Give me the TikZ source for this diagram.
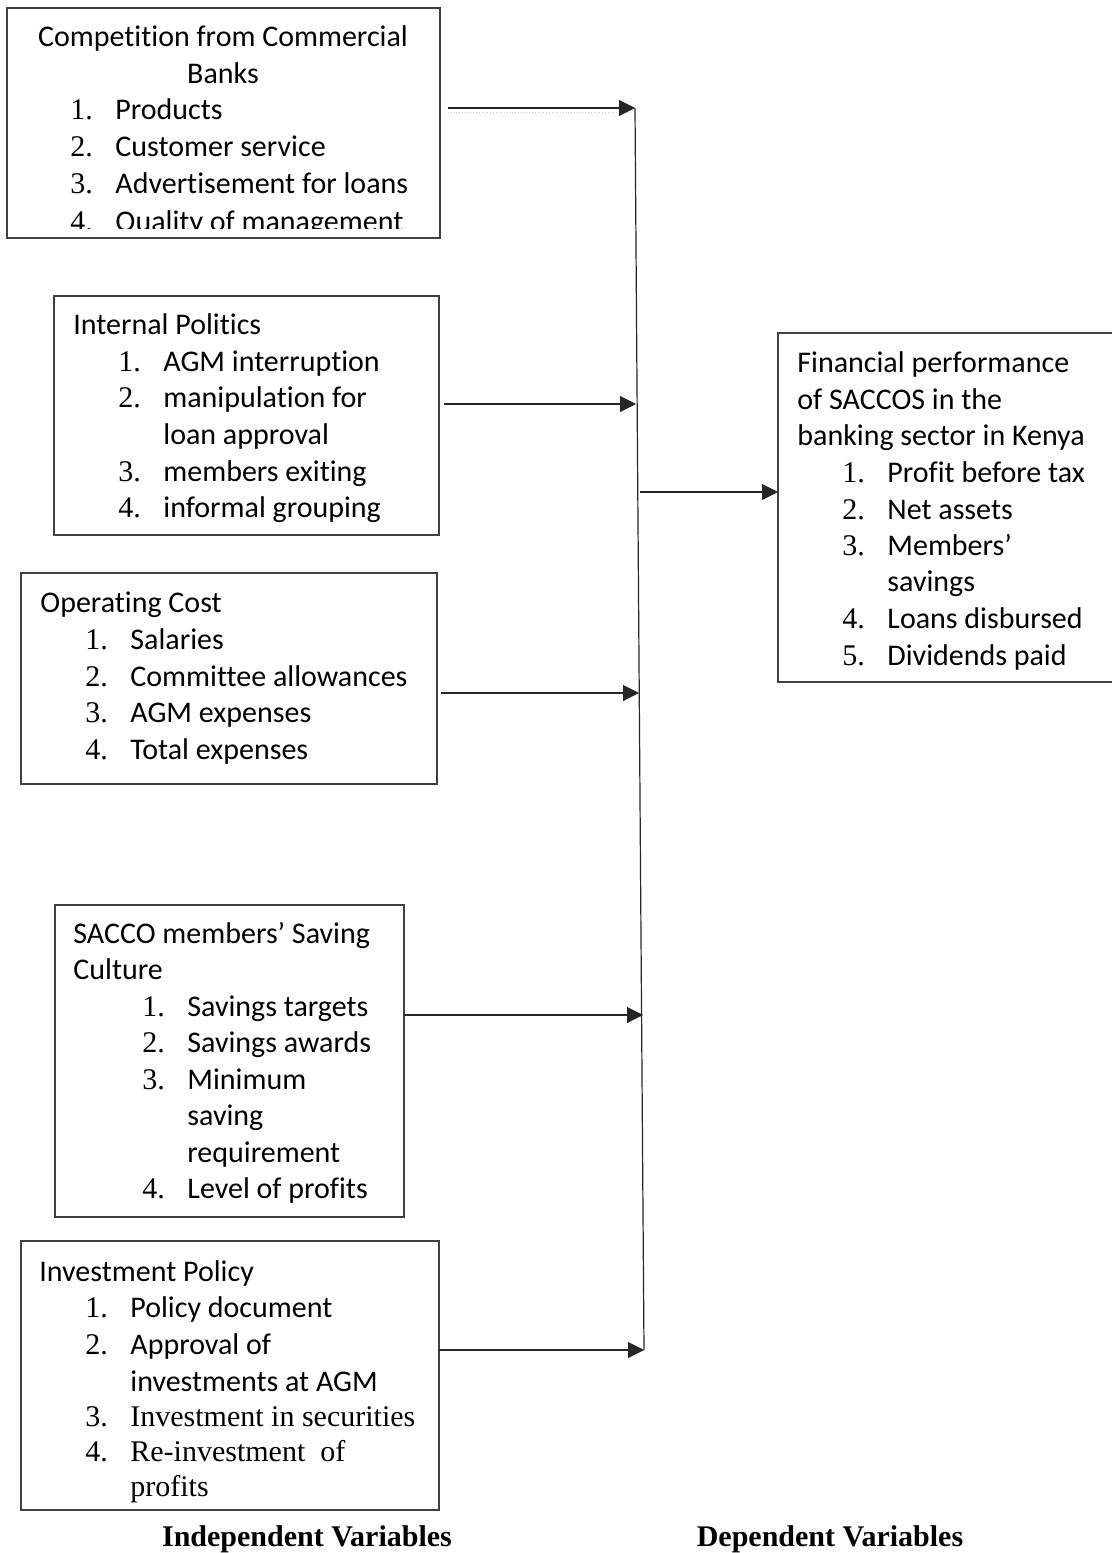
\documentclass[tikz,border=0pt]{standalone}
\usepackage{fontspec}
\setmainfont[Ligatures=NoCommon]{Carlito}
\newfontfamily\carlito[Ligatures=NoCommon]{Carlito}
\newfontfamily\timesf{Liberation Serif}
\usetikzlibrary{arrows.meta,fit}
\newcommand\nr[1]{\makebox[22.5pt][l]{\timesf #1}}
\tikzset{
  box/.style={draw=black!75,line width=0.7pt,inner sep=0pt,outer sep=0pt},
  txt/.style={anchor=base west,inner sep=0pt,font=\carlito\fontsize{15pt}{18pt}\selectfont},
  tms/.style={txt,font=\timesf\fontsize{15pt}{18pt}\selectfont},
  varlabel/.style={anchor=base,inner sep=0pt,font=\timesf\bfseries\fontsize{15pt}{18pt}\selectfont},
  arr/.style={-{Triangle[length=8pt,width=8pt]},line width=0.55pt,black!85},
}
\begin{document}
\begin{tikzpicture}[x=0.5pt,y=-0.5pt]
\useasboundingbox (0,0) rectangle (1112,1553);
% boxes
\node[box,fit={(7,8) (440,238)}] (b1) {};
\node[box,fit={(54,296) (439,535)}] (b2) {};
\node[box,fit={(21,573) (437,784)}] (b3) {};
\node[box,fit={(55,905) (404,1217)}] (b4) {};
\node[box,fit={(21,1241) (439,1510)}] (b5) {};
\node[box,fit={(778,333) (1118,682)}] (bd) {};
% competition
\begin{scope}
\clip (7,8) rectangle (440,228);
\node[txt,anchor=base] (cb0) at (223,46.5) {Competition from Commercial};
\node[txt,anchor=base] (cb0b) at (223,83) {Banks};
\node[txt] (cb1) at (70,119.5) {\nr{1.}Products};
\node[txt] (cb2) at (70,156) {\nr{2.}Customer service};
\node[txt] (cb3) at (70,193) {\nr{3.}Advertisement for loans};
\node[txt] (cb4) at (70,231) {\nr{4.}Quality of management};
\end{scope}
% internal politics
\node[txt] (ip0) at (73,334) {Internal Politics};
\node[txt] (ip1) at (118,371) {\nr{1.}AGM interruption};
\node[txt] (ip2) at (118,407) {\nr{2.}manipulation for};
\node[txt] (ip2b) at (163,444) {loan approval};
\node[txt] (ip3) at (118,481) {\nr{3.}members exiting};
\node[txt] (ip4) at (118,517) {\nr{4.}informal grouping};
% operating cost
\node[txt] (oc0) at (40,612) {Operating Cost};
\node[txt] (oc1) at (85,649) {\nr{1.}Salaries};
\node[txt] (oc2) at (85,686) {\nr{2.}Committee allowances};
\node[txt] (oc3) at (85,722) {\nr{3.}AGM expenses};
\node[txt] (oc4) at (85,759) {\nr{4.}Total expenses};
% saving culture
\node[txt] (sc0) at (73,943) {SACCO members’ Saving};
\node[txt] (sc0b) at (73,979.5) {Culture};
\node[txt] (sc1) at (142,1016) {\nr{1.}Savings targets};
\node[txt] (sc2) at (142,1052.5) {\nr{2.}Savings awards};
\node[txt] (sc3) at (142,1089) {\nr{3.}Minimum};
\node[txt] (sc3b) at (187,1125.5) {saving};
\node[txt] (sc3c) at (187,1162) {requirement};
\node[txt] (sc4) at (142,1198.5) {\nr{4.}Level of profits};
% investment policy
\node[txt] (iv0) at (39,1281) {Investment Policy};
\node[txt] (iv1) at (85,1317) {\nr{1.}Policy document};
\node[txt] (iv2) at (85,1354) {\nr{2.}Approval of};
\node[txt] (iv2b) at (130,1391) {investments at AGM};
\node[tms] (iv3) at (85,1426) {\nr{3.}Investment in securities};
\node[tms] (iv4) at (85,1461) {\nr{4.}Re-investment\ \ of};
\node[tms] (iv4b) at (130,1496) {profits};
% financial performance
\node[txt] (fp0) at (797,372) {Financial performance};
\node[txt] (fp0b) at (797,409) {of SACCOS in the};
\node[txt] (fp0c) at (797,445) {banking sector in Kenya};
\node[txt] (fp1) at (842,482) {\nr{1.}Profit before tax};
\node[txt] (fp2) at (842,519) {\nr{2.}Net assets};
\node[txt] (fp3) at (842,555) {\nr{3.}Members’};
\node[txt] (fp3b) at (887,591) {savings};
\node[txt] (fp4) at (842,628) {\nr{4.}Loans disbursed};
\node[txt] (fp5) at (842,665) {\nr{5.}Dividends paid};
% captions
\node[varlabel] (indep) at (307,1546) {Independent Variables};
\node[varlabel] (dep) at (830,1546) {Dependent Variables};
% connectors
\coordinate (j1) at (635,108);
\coordinate (j2) at (636,404);
\coordinate (j3) at (639,693);
\coordinate (j4) at (643,1015);
\coordinate (j5) at (644,1350);
\coordinate (jo) at (640,492);
\draw[line width=0.6pt,black!85] (j1) -- (j5);
\draw[gray!45,densely dotted,line width=0.4pt] ([xshift=4pt,yshift=-2pt]b1.east |- j1) -- ([xshift=-2pt,yshift=-2pt]j1);
\draw[arr,shorten <=4pt] (b1.east |- j1) -- (j1);
\draw[arr,shorten <=2.5pt] (b2.east |- j2) -- (j2);
\draw[arr,shorten <=2pt] (b3.east |- j3) -- (j3);
\draw[arr] (b4.east |- j4) -- (j4);
\draw[arr] (b5.east |- j5) -- (j5);
\draw[arr] (jo) -- (bd.west |- jo);
\end{tikzpicture}
\end{document}
